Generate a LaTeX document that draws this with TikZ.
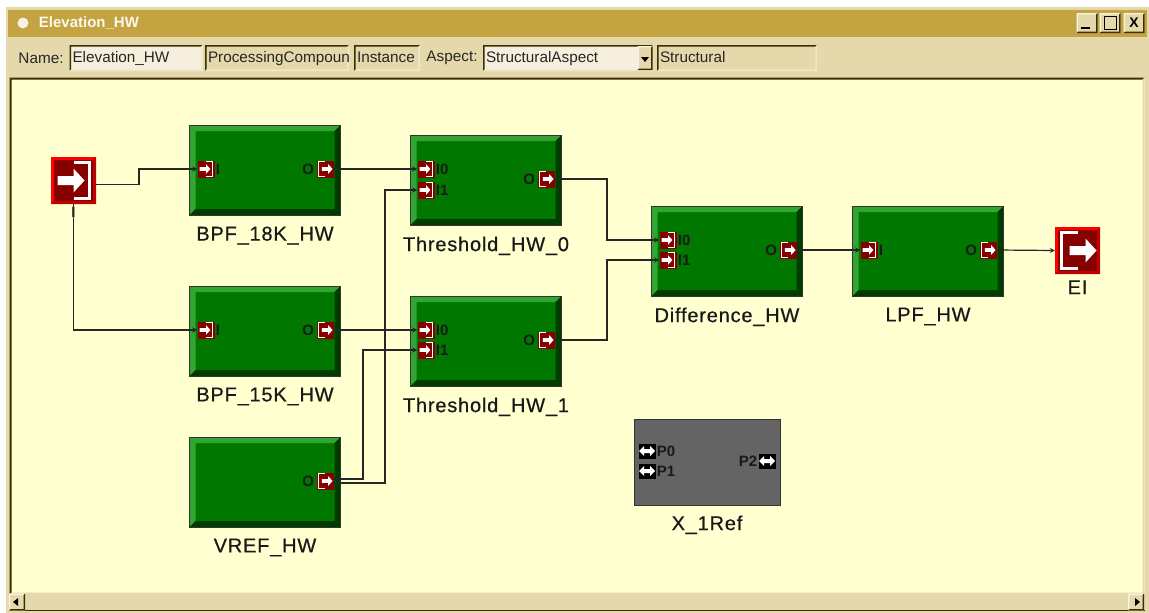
\documentclass[tikz,border=0pt]{standalone}
\usepackage{fontspec}
\setmainfont{Liberation Sans}
\newfontfamily\namefont[LetterSpace=4,FakeBold=0.6]{Liberation Sans}
\usepackage{xcolor}
\usetikzlibrary{arrows,shapes,positioning}
\definecolor{winsand}{RGB}{229,217,172}
\definecolor{wintitle}{RGB}{196,164,64}
\definecolor{winfield}{RGB}{247,239,221}
\definecolor{winedge}{RGB}{60,45,5}
\definecolor{canvasyellow}{RGB}{255,255,208}
\definecolor{blockgreen}{RGB}{0,120,0}
\definecolor{blocklight}{RGB}{50,165,50}
\definecolor{blockdark}{RGB}{0,60,0}
\definecolor{portred}{RGB}{135,0,0}
\definecolor{refgray}{RGB}{100,100,100}
\newcommand{\bevelface}[3]{%
  \fill[#2] (path picture bounding box.south west) -- (path picture bounding box.north west) -- (path picture bounding box.north east) -- ([xshift=-#1pt,yshift=-#1pt]path picture bounding box.north east) -- ([xshift=#1pt,yshift=-#1pt]path picture bounding box.north west) -- ([xshift=#1pt,yshift=#1pt]path picture bounding box.south west) -- cycle;
  \fill[#3] (path picture bounding box.south west) -- (path picture bounding box.south east) -- (path picture bounding box.north east) -- ([xshift=-#1pt,yshift=-#1pt]path picture bounding box.north east) -- ([xshift=-#1pt,yshift=#1pt]path picture bounding box.south east) -- ([xshift=#1pt,yshift=#1pt]path picture bounding box.south west) -- cycle;}
\newcommand{\inface}[2]{%
  \begin{scope}[shift={(path picture bounding box.center)},x=#1pt,y=-#1pt]
    \fill[#2] (-16,-4.5) -- (0,-4.5) -- (0,-12) -- (11,0) -- (0,12) -- (0,4.5) -- (-16,4.5) -- cycle;
    \draw[#2,line width=#1*3pt] (0,-18) -- (16,-18) -- (16,18) -- (0,18);
  \end{scope}}
\newcommand{\outface}[2]{%
  \begin{scope}[shift={(path picture bounding box.center)},x=#1pt,y=-#1pt]
    \fill[#2] (-8,-4.5) -- (8,-4.5) -- (8,-12) -- (19,0) -- (8,12) -- (8,4.5) -- (-8,4.5) -- cycle;
    \draw[#2,line width=#1*3pt] (0,-18) -- (-16,-18) -- (-16,18) -- (0,18);
  \end{scope}}
\newcommand{\bothface}{%
  \begin{scope}[shift={(path picture bounding box.center)}]
    \fill[white] (-8,0) -- (-3,-5) -- (-3,-2) -- (3,-2) -- (3,-5) -- (8,0) -- (3,5) -- (3,2) -- (-3,2) -- (-3,5) -- cycle;
  \end{scope}}
\tikzstyle{arrow} = [line width=1.2pt,->,>=stealth,color=black!85]
\tikzstyle{block} = [rectangle, inner sep=0pt, minimum width=151pt, minimum height=90pt, draw=black!80, thick, fill=blockgreen, path picture={\bevelface{6}{blocklight}{blockdark}}]
\tikzstyle{refblock} = [rectangle, inner sep=0pt, minimum width=146pt, minimum height=86pt, draw=black!80, thick, fill=refgray]
\tikzstyle{blockname} = [font=\namefont\fontsize{20}{22}\selectfont, inner sep=0pt, text=black!90]
\tikzstyle{portname} = [font=\fontsize{15}{17}\bfseries\selectfont, inner sep=1pt, text=black!90]
\tikzstyle{inport} = [rectangle, inner sep=0pt, minimum size=17pt, fill=portred, path picture={\inface{0.4}{white}}]
\tikzstyle{outport} = [rectangle, inner sep=0pt, minimum size=17pt, fill=portred, path picture={\outface{0.4}{white}}]
\tikzstyle{refport} = [rectangle, inner sep=0pt, minimum width=17pt, minimum height=15pt, fill=black, path picture={\bothface}]
\tikzstyle{bigin} = [rectangle, inner sep=0pt, minimum width=45pt, minimum height=47pt, fill=portred, path picture={\bevelface{3}{red}{red!75!black}\inface{1}{white}}]
\tikzstyle{bigout} = [rectangle, inner sep=0pt, minimum width=45pt, minimum height=47pt, fill=portred, path picture={\bevelface{3}{red}{red!75!black}\outface{1}{white}}]
\tikzstyle{field} = [rectangle, inner sep=0pt, minimum height=26pt, text height=11pt, text depth=3pt, align=left, font=\fontsize{15.3}{17}\selectfont, text=black!85, path picture={\bevelface{1.6}{winedge}{winsand!60!white}}]
\tikzstyle{winbutton} = [rectangle, inner sep=0pt, minimum width=21pt, minimum height=20pt, fill=winsand, font=\fontsize{14}{16}\bfseries\selectfont, path picture={\bevelface{1.4}{white!70!winsand}{winedge}}]
\tikzstyle{scrollbtn} = [rectangle, inner sep=0pt, minimum width=16pt, minimum height=17pt, fill=winsand, path picture={\bevelface{1.4}{white!70!winsand}{winedge}}]
\begin{document}
\begin{tikzpicture}[x=1pt,y=-1pt]
\useasboundingbox (0,0) rectangle (1149,613);
% Window frame
\fill[white] (0,0) rectangle (1149,613);
\node (frame) [rectangle, inner sep=0pt, minimum width=1143pt, minimum height=606pt, fill=winsand] at (577.5,310) {};
\node (titlebar) [rectangle, inner sep=0pt, minimum width=1139pt, minimum height=27pt, fill=wintitle] at (577.5,23) {};
\node (canvas) [rectangle, inner sep=0pt, minimum width=1135pt, minimum height=517pt, fill=canvasyellow, path picture={\bevelface{2}{winedge}{winsand}}] at (577,336) {};
\node (scrollbar) [rectangle, inner sep=0pt, minimum width=1136pt, minimum height=17pt, fill=winsand] at (577,602) {};
\draw[winedge, thick] (scrollbar.south west) -- (scrollbar.south east);
\node (scrollleft) [scrollbtn] at (17,602) {};
\node (scrollright) [scrollbtn] at (1136,602) {};
\fill[black] (13,602) -- (18,598) -- (18,606) -- cycle;
\fill[black] (1140,602) -- (1135,598) -- (1135,606) -- cycle;

% Title bar
\node (titledot) [circle, inner sep=0pt, minimum size=11pt, fill=white!85!wintitle] at (23,23) {};
\node (title) [right=10pt of titledot, inner sep=0pt, text=white!92!wintitle, font=\fontsize{15}{17}\bfseries\selectfont] {Elevation\_HW};
\node (btnmin) [winbutton] at (1087,23) {};
\fill[black] (1081,27) rectangle (1090,29);
\node (btnmax) [winbutton] at (1110,23) {};
\draw[black, thick] (1104,16) rectangle (1116,29);
\node (btnclose) [winbutton] at (1134,23) {X};

% Toolbar
\node (namelabel) [inner sep=0pt, font=\fontsize{15.3}{17}\selectfont, text=black!85] at (41,58) {Name:};
\node (namefield) [field, fill=winfield, minimum width=133pt, text width=127pt] at (136,58) {Elevation\_HW};
\node (kindfield) [field, minimum width=144pt, text width=138pt] at (277,58) {ProcessingCompoun};
\node (instfield) [field, minimum width=66pt, text width=60pt] at (387,58) {Instance};
\node (aspectlabel) [inner sep=0pt, font=\fontsize{15.3}{17}\selectfont, text=black!85] at (452,58) {Aspect:};
\node (aspectfield) [field, fill=winfield, minimum width=170pt, text width=164pt] at (568,58) {StructuralAspect};
\node (aspectbtn) [scrollbtn, minimum width=15pt, minimum height=24pt] at (645,58) {};
\fill[black] (641,57) -- (649,57) -- (645,62) -- cycle;
\node (typefield) [field, minimum width=160pt, text width=154pt] at (737,58) {Structural};

% Blocks
\node (bpfa) [block] at (265,170) {};
\node (bpfb) [block] at (265,331) {};
\node (vref) [block] at (265,482) {};
\node (thra) [block] at (486,180) {};
\node (thrb) [block] at (486,341) {};
\node (diff) [block] at (727,251) {};
\node (lpf) [block] at (928,251) {};
\node (xref) [refblock] at (707,462) {};
\node (input) [bigin] at (73.5,180.5) {};
\node (output) [bigout] at (1077.5,250.5) {};

% Names
\node (bpfa_name) [blockname, below=11pt of bpfa] {BPF\_18K\_HW};
\node (bpfb_name) [blockname, below=11pt of bpfb] {BPF\_15K\_HW};
\node (vref_name) [blockname, below=11pt of vref] {VREF\_HW};
\node (thra_name) [blockname, below=11pt of thra] {Threshold\_HW\_0};
\node (thrb_name) [blockname, below=11pt of thrb] {Threshold\_HW\_1};
\node (diff_name) [blockname, below=11pt of diff] {Difference\_HW};
\node (lpf_name) [blockname, below=11pt of lpf] {LPF\_HW};
\node (xref_name) [blockname, below=10pt of xref] {X\_1Ref};
\node (output_name) [blockname, below=6pt of output] {EI};

% Ports
\node (bpfa_i) [inport] at (206,169) {};
\node (bpfa_il) [portname, right=0pt of bpfa_i] {I};
\node (bpfa_o) [outport] at (325,169) {};
\node (bpfa_ol) [portname, left=1pt of bpfa_o] {O};
\node (bpfb_i) [inport] at (206,330) {};
\node (bpfb_il) [portname, right=0pt of bpfb_i] {I};
\node (bpfb_o) [outport] at (325,330) {};
\node (bpfb_ol) [portname, left=1pt of bpfb_o] {O};
\node (vref_o) [outport] at (325,481) {};
\node (vref_ol) [portname, left=1pt of vref_o] {O};
\node (thra_ia) [inport] at (426,169) {};
\node (thra_ial) [portname, right=0pt of thra_ia] {I0};
\node (thra_ib) [inport] at (426,190) {};
\node (thra_ibl) [portname, right=0pt of thra_ib] {I1};
\node (thra_o) [outport] at (546,179) {};
\node (thra_ol) [portname, left=1pt of thra_o] {O};
\node (thrb_ia) [inport] at (426,330) {};
\node (thrb_ial) [portname, right=0pt of thrb_ia] {I0};
\node (thrb_ib) [inport] at (426,350) {};
\node (thrb_ibl) [portname, right=0pt of thrb_ib] {I1};
\node (thrb_o) [outport] at (546,340) {};
\node (thrb_ol) [portname, left=1pt of thrb_o] {O};
\node (diff_ia) [inport] at (668,240) {};
\node (diff_ial) [portname, right=0pt of diff_ia] {I0};
\node (diff_ib) [inport] at (668,260) {};
\node (diff_ibl) [portname, right=0pt of diff_ib] {I1};
\node (diff_o) [outport] at (788,250) {};
\node (diff_ol) [portname, left=1pt of diff_o] {O};
\node (lpf_i) [inport] at (869,250) {};
\node (lpf_il) [portname, right=0pt of lpf_i] {I};
\node (lpf_o) [outport] at (988,250) {};
\node (lpf_ol) [portname, left=1pt of lpf_o] {O};
\node (xref_pa) [refport] at (647,451) {};
\node (xref_pal) [portname, right=0pt of xref_pa] {P0};
\node (xref_pb) [refport] at (647,471) {};
\node (xref_pbl) [portname, right=0pt of xref_pb] {P1};
\node (xref_pc) [refport] at (767,461) {};
\node (xref_pcl) [portname, left=0pt of xref_pc] {P2};
\node (input_name) [portname, below=2pt of input] {I};

% Connectors
\draw[arrow] ([yshift=-4pt]input.east) -| (139,169) -- (bpfa_i.west);
\draw[arrow] (input.south) |- (bpfb_i.west);
\draw[arrow] (bpfa_o.east) -- (thra_ia.west);
\draw[arrow] (bpfb_o.east) -- (thrb_ia.west);
\draw[arrow] ([yshift=-2pt]vref_o.east) -| (385,190) -- (thra_ib.west);
\draw[arrow] ([yshift=2pt]vref_o.east) -| (363,350) -- (thrb_ib.west);
\draw[arrow] (thra_o.east) -| (607,240) -- (diff_ia.west);
\draw[arrow] (thrb_o.east) -| (607,260) -- (diff_ib.west);
\draw[arrow] (diff_o.east) -- (lpf_i.west);
\draw[arrow] (lpf_o.east) -- (output.west);
\end{tikzpicture}
\end{document}
